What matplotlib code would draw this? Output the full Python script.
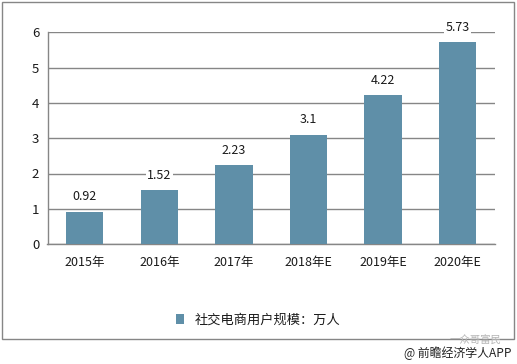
import matplotlib
matplotlib.use('Agg')
import matplotlib.pyplot as plt
from matplotlib.patches import Rectangle

plt.rcParams['font.family'] = ['Noto Sans CJK SC', 'DejaVu Sans']

years = ['2015年', '2016年', '2017年', '2018年E', '2019年E', '2020年E']
users = [0.92, 1.52, 2.23, 3.1, 4.22, 5.73]
value_labels = ['0.92', '1.52', '2.23', '3.1', '4.22', '5.73']
series_name = '社交电商用户规模：万人'

W, H = 517, 364
bar_color = '#5f8fa8'
line_color = '#868686'
text_color = '#1a1a1a'

fig = plt.figure(figsize=(W / 100, H / 100), dpi=100, facecolor='white')

# outer chart frame
fig.add_artist(Rectangle((1.5 / W, 1 - 339 / H), 512.5 / W, 337.5 / H, transform=fig.transFigure,
                         fill=False, edgecolor=line_color, linewidth=1))

ax = fig.add_axes([47.5 / W, 1 - 244 / H, 447.5 / W, 211.5 / H])
x = list(range(len(years)))
ax.bar(x, users, width=0.5, color=bar_color, zorder=3, label=series_name)
ax.set_xlim(-0.5, 5.5)
ax.set_ylim(0, 6)

ax.grid(axis='y', color=line_color, linewidth=1, zorder=0)
ax.set_axisbelow(True)
for side in ['top', 'right']:
    ax.spines[side].set_visible(False)
for side in ['left', 'bottom']:
    ax.spines[side].set_color(line_color)
    ax.spines[side].set_linewidth(1)

ax.set_xticks(x)
ax.set_xticklabels(years)
ax.tick_params(axis='x', length=0, pad=8.5, labelsize=9, labelcolor=text_color)
ax.tick_params(axis='y', length=0, pad=6, labelsize=9.5, labelcolor=text_color)

for xi, v, lab in zip(x, users, value_labels):
    ax.annotate(lab, (xi, v), xytext=(0, 6), textcoords='offset points', ha='center', va='bottom',
                fontsize=9, color=text_color, zorder=4,
                bbox=dict(facecolor='white', edgecolor='none', pad=1))

fig.legend(handles=ax.containers[0][:1], labels=[series_name], loc='center', ncol=1,
           bbox_to_anchor=(258 / W, 1 - 320 / H), frameon=False, fontsize=9.5,
           handlelength=0.6, handleheight=0.7, handletextpad=0.8, labelcolor=text_color)

fig.text(511 / W, 1 - 353.5 / H, '@ 前瞻经济学人APP', ha='right', va='center', fontsize=8.6, color='#222222')
fig.text(501 / W, 1 - 341 / H, '一众哥富民', ha='right', va='center', fontsize=7.5, color='#b5b5b5')

fig.savefig('out.png', dpi=100, facecolor='white')
